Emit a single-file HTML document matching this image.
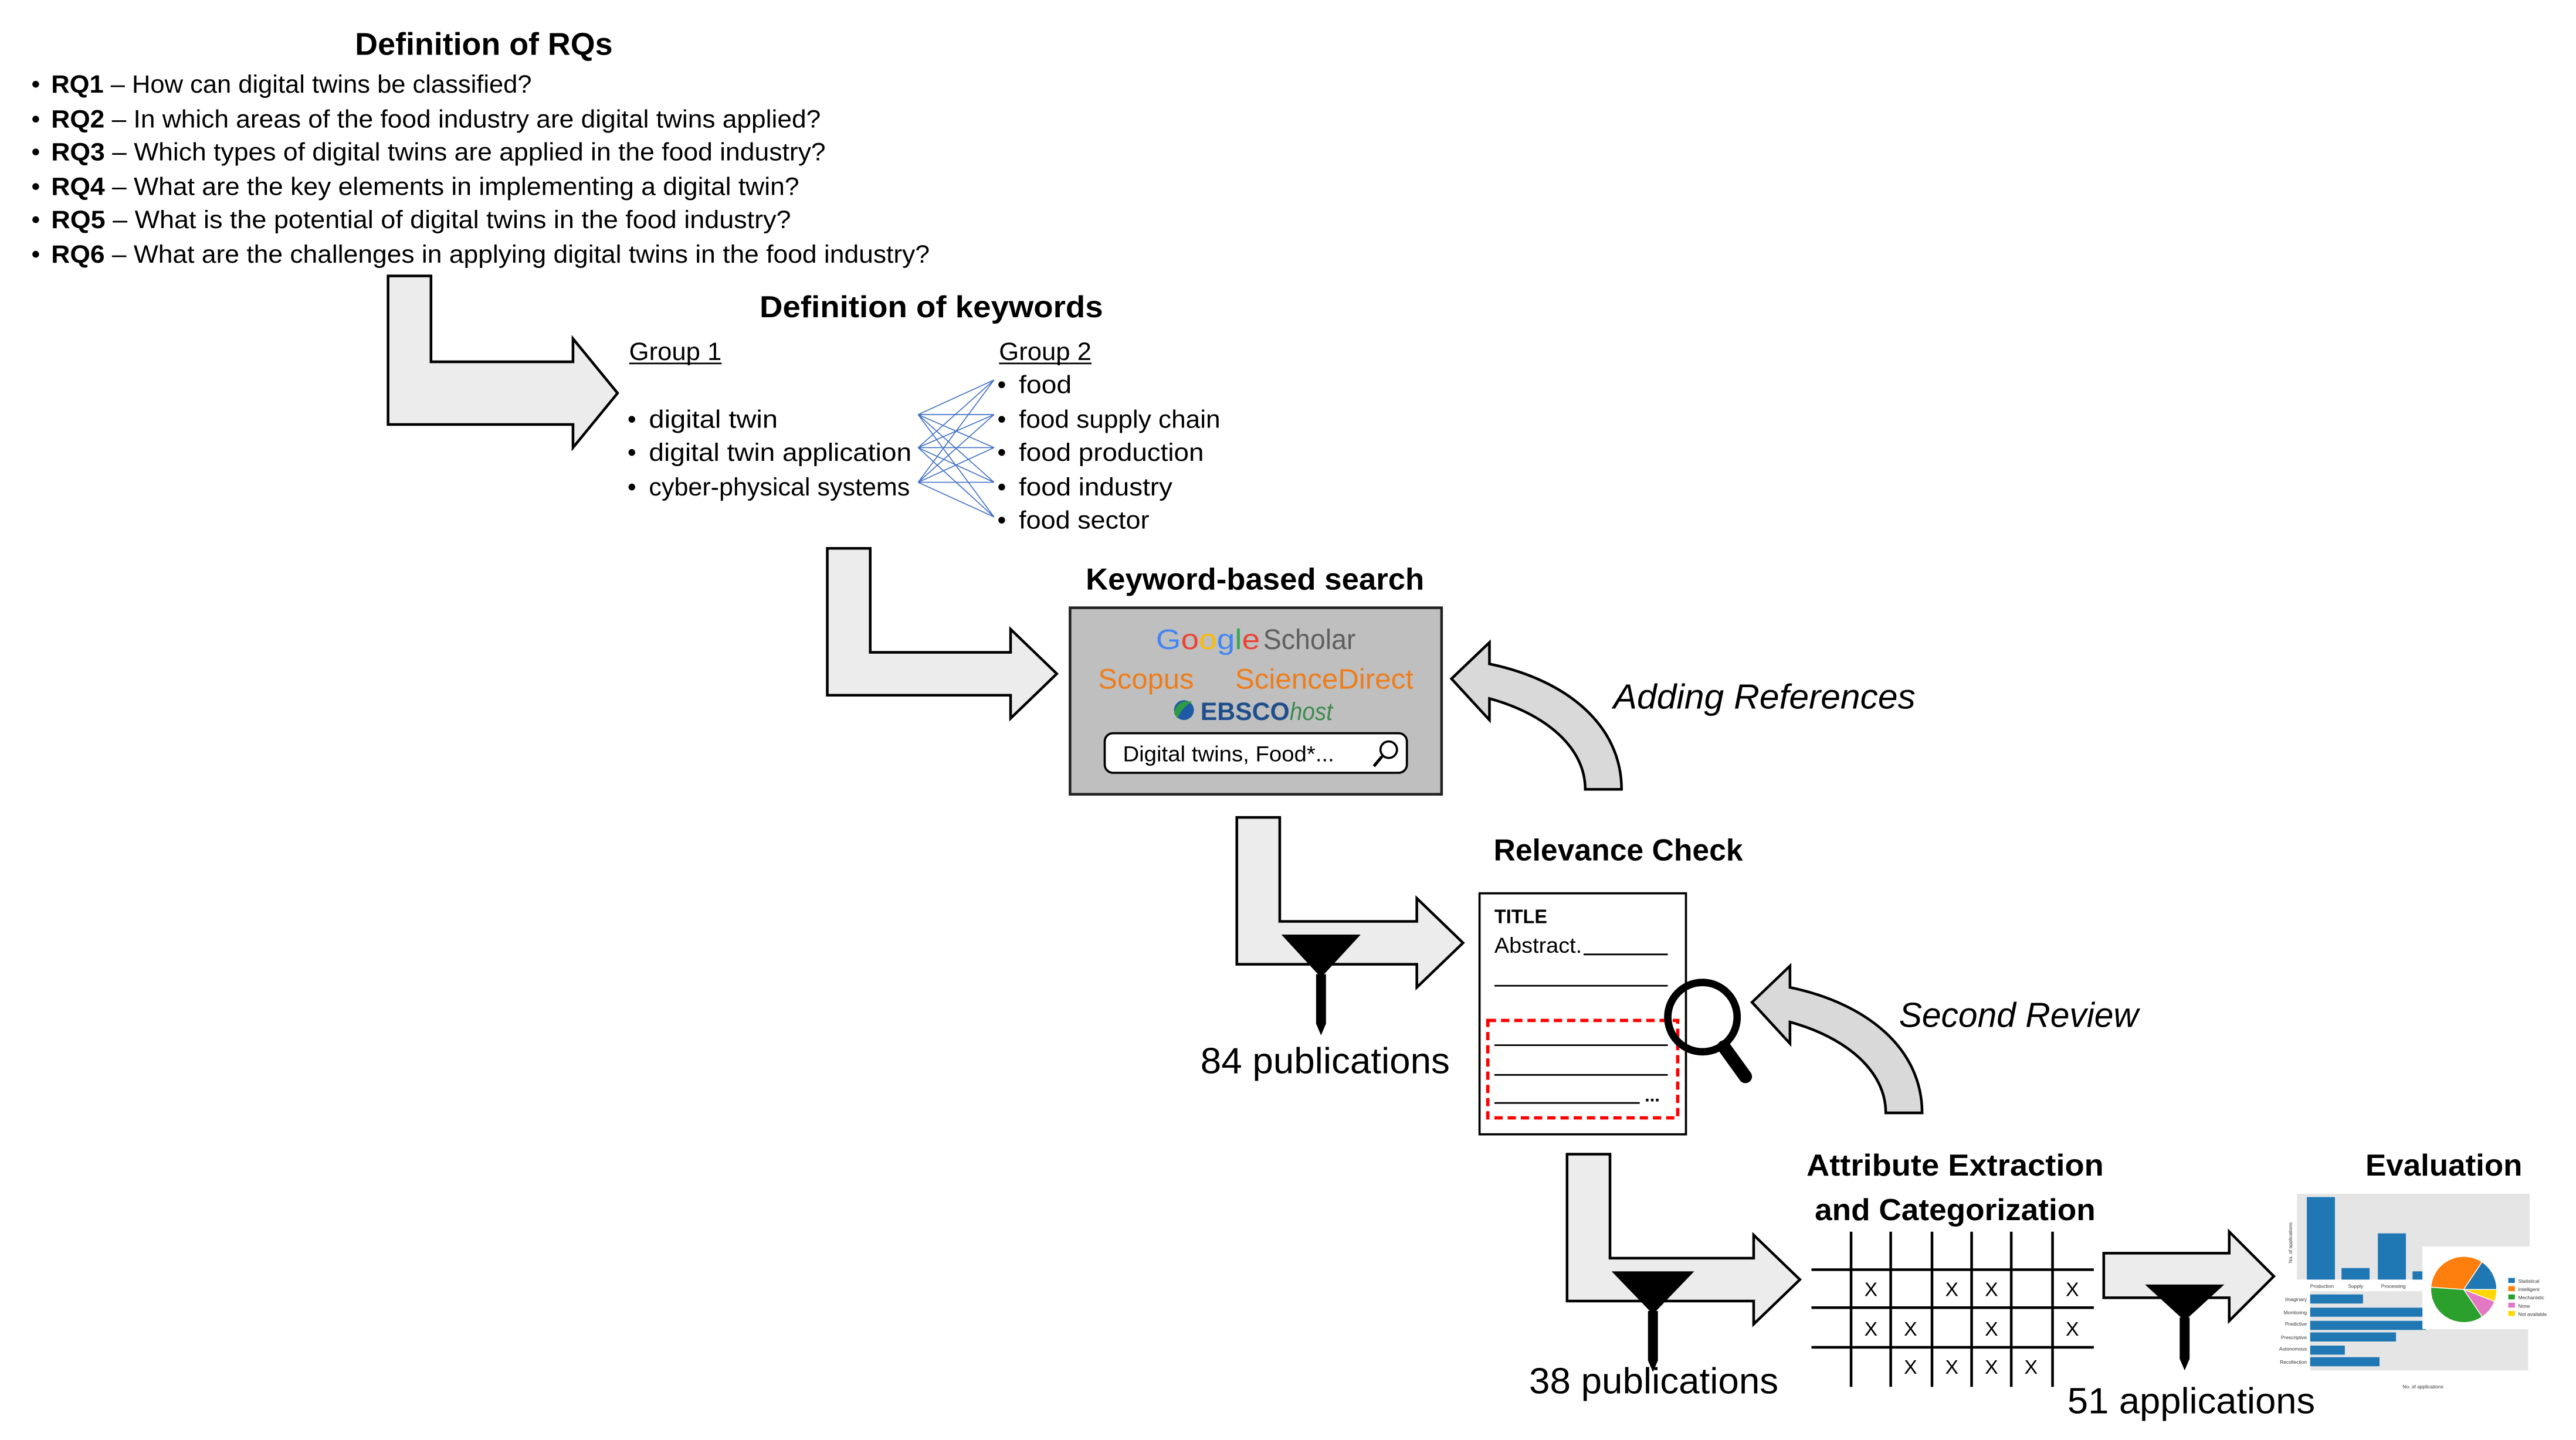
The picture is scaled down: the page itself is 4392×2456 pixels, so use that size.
<!DOCTYPE html>
<html><head><meta charset="utf-8"><style>
html,body{margin:0;padding:0;background:#fff;}
svg{display:block;}
text{font-family:"Liberation Sans",sans-serif;}
</style></head><body>
<svg width="4392" height="2456" viewBox="0 0 1560 872" xmlns="http://www.w3.org/2000/svg">
<rect width="1560" height="872" fill="#fff"/>
<!-- RQs -->
<text x="293" y="33" font-size="19" font-weight="bold" text-anchor="middle" textLength="156" lengthAdjust="spacingAndGlyphs">Definition of RQs</text>
<g font-size="15">
<text x="19" y="56">•</text><text x="31" y="56" textLength="291" lengthAdjust="spacingAndGlyphs"><tspan font-weight="bold">RQ1</tspan> – How can digital twins be classified?</text>
<text x="19" y="77">•</text><text x="31" y="77" textLength="466" lengthAdjust="spacingAndGlyphs"><tspan font-weight="bold">RQ2</tspan> – In which areas of the food industry are digital twins applied?</text>
<text x="19" y="97">•</text><text x="31" y="97" textLength="469" lengthAdjust="spacingAndGlyphs"><tspan font-weight="bold">RQ3</tspan> – Which types of digital twins are applied in the food industry?</text>
<text x="19" y="118">•</text><text x="31" y="118" textLength="453" lengthAdjust="spacingAndGlyphs"><tspan font-weight="bold">RQ4</tspan> – What are the key elements in implementing a digital twin?</text>
<text x="19" y="138">•</text><text x="31" y="138" textLength="448" lengthAdjust="spacingAndGlyphs"><tspan font-weight="bold">RQ5</tspan> – What is the potential of digital twins in the food industry?</text>
<text x="19" y="159">•</text><text x="31" y="159" textLength="532" lengthAdjust="spacingAndGlyphs"><tspan font-weight="bold">RQ6</tspan> – What are the challenges in applying digital twins in the food industry?</text>
</g>
<!-- arrows L -->
<g fill="#ececec" stroke="#000" stroke-width="1.6" stroke-linejoin="miter">
<polygon points="235,167 261,167 261,219 347,219 347,205 374,238 347,271 347,257 235,257"/>
<polygon points="501,332 527,332 527,395 612,395 612,381 640,408 612,435 612,421 501,421"/>
<polygon points="749,495 775,495 775,558 858,558 858,544 886,571 858,598 858,584 749,584"/>
<polygon points="949,699 975,699 975,762 1062,762 1062,748 1090,775 1062,802 1062,788 949,788"/>
<polygon points="1274,759 1350,759 1350,746 1377,773 1350,800 1350,786 1274,786"/>
</g>
<!-- keywords -->
<text x="564" y="192" font-size="18.5" font-weight="bold" text-anchor="middle" textLength="208" lengthAdjust="spacingAndGlyphs">Definition of keywords</text>
<g font-size="15">
<text x="381" y="218" textLength="56" lengthAdjust="spacingAndGlyphs">Group 1</text>
<line x1="381" y1="220" x2="437" y2="220" stroke="#000" stroke-width="1"/>
<text x="605" y="218" textLength="56" lengthAdjust="spacingAndGlyphs">Group 2</text>
<line x1="605" y1="220" x2="661" y2="220" stroke="#000" stroke-width="1"/>
<text x="380" y="259">•</text><text x="393" y="259" textLength="78" lengthAdjust="spacingAndGlyphs">digital twin</text>
<text x="380" y="279">•</text><text x="393" y="279" textLength="159" lengthAdjust="spacingAndGlyphs">digital twin application</text>
<text x="380" y="300">•</text><text x="393" y="300" textLength="158" lengthAdjust="spacingAndGlyphs">cyber-physical systems</text>
<text x="604" y="238">•</text><text x="617" y="238" textLength="32" lengthAdjust="spacingAndGlyphs">food</text>
<text x="604" y="259">•</text><text x="617" y="259" textLength="122" lengthAdjust="spacingAndGlyphs">food supply chain</text>
<text x="604" y="279">•</text><text x="617" y="279" textLength="112" lengthAdjust="spacingAndGlyphs">food production</text>
<text x="604" y="300">•</text><text x="617" y="300" textLength="93" lengthAdjust="spacingAndGlyphs">food industry</text>
<text x="604" y="320">•</text><text x="617" y="320" textLength="79" lengthAdjust="spacingAndGlyphs">food sector</text>
</g>
<g stroke="#4472c4" stroke-width="0.6">
<path d="M556,251L602,230M556,251L602,251M556,251L602,271M556,251L602,292M556,251L602,313
M556,271L602,230M556,271L602,251M556,271L602,271M556,271L602,292M556,271L602,313
M556,292L602,230M556,292L602,251M556,292L602,271M556,292L602,292M556,292L602,313"/>
</g>
<!-- keyword search -->
<text x="760" y="357" font-size="18.5" font-weight="bold" text-anchor="middle" textLength="205" lengthAdjust="spacingAndGlyphs">Keyword-based search</text>
<rect x="648" y="368" width="225" height="113" fill="#bfbfbf" stroke="#222" stroke-width="1.6"/>
<text x="700" y="393" font-size="17" textLength="63" lengthAdjust="spacingAndGlyphs"><tspan fill="#4285f4">G</tspan><tspan fill="#ea4335">o</tspan><tspan fill="#fbbc05">o</tspan><tspan fill="#4285f4">g</tspan><tspan fill="#34a853">l</tspan><tspan fill="#ea4335">e</tspan></text>
<text x="765" y="393" font-size="17" fill="#5f5f5f" textLength="56" lengthAdjust="spacingAndGlyphs">Scholar</text>
<text x="665" y="417" font-size="17" fill="#ee7d1a" textLength="58" lengthAdjust="spacingAndGlyphs">Scopus</text>
<text x="748" y="417" font-size="17" fill="#ee7d1a" textLength="108" lengthAdjust="spacingAndGlyphs">ScienceDirect</text>
<circle cx="717" cy="430" r="6" fill="#1f5aa6"/><path d="M711,432 Q713,423 722,425 Q716,428 713,435 Z" fill="#2e9b45"/>
<text x="727" y="436" font-size="15" font-family="Liberation Serif,serif" font-weight="bold" fill="#1f4e8c" textLength="54" lengthAdjust="spacingAndGlyphs">EBSCO</text>
<text x="781" y="436" font-size="15" font-style="italic" fill="#3d8a4e" textLength="26" lengthAdjust="spacingAndGlyphs">host</text>
<rect x="669" y="444" width="183" height="24" rx="5" fill="#fff" stroke="#000" stroke-width="1.3"/>
<text x="680" y="461" font-size="13" textLength="128" lengthAdjust="spacingAndGlyphs">Digital twins, Food*...</text>
<circle cx="841" cy="454" r="5" fill="none" stroke="#000" stroke-width="1.3"/><line x1="837" y1="458" x2="832" y2="464" stroke="#000" stroke-width="1.8"/>
<!-- curved arrows -->
<g fill="#d9d9d9" stroke="#000" stroke-width="1.6">
<path d="M982,478 C982,440 950,412 902,402 L902,389 L879,411 L902,436 L902,423 C935,432 960,452 960,478 Z"/>
<path d="M1164,674 C1164,636 1132,608 1084,598 L1084,585 L1061,607 L1084,632 L1084,619 C1117,628 1142,648 1142,674 Z"/>
</g>
<text x="977" y="429" font-size="21" font-style="italic" textLength="183" lengthAdjust="spacingAndGlyphs">Adding References</text>
<text x="1150" y="622" font-size="21" font-style="italic" textLength="145" lengthAdjust="spacingAndGlyphs">Second Review</text>
<!-- relevance check -->
<text x="980" y="521" font-size="18.5" font-weight="bold" text-anchor="middle" textLength="151" lengthAdjust="spacingAndGlyphs">Relevance Check</text>
<rect x="896" y="541" width="125" height="146" fill="#fff" stroke="#000" stroke-width="1.3"/>
<text x="905" y="559" font-size="12" font-weight="bold" textLength="32" lengthAdjust="spacingAndGlyphs">TITLE</text>
<text x="905" y="577" font-size="13" textLength="53" lengthAdjust="spacingAndGlyphs">Abstract.</text>
<g stroke="#000" stroke-width="1"><line x1="959" y1="578" x2="1010" y2="578"/><line x1="905" y1="597" x2="1010" y2="597"/>
<line x1="905" y1="633" x2="1010" y2="633"/><line x1="905" y1="651" x2="1010" y2="651"/><line x1="905" y1="668" x2="993" y2="668"/></g>
<text x="996" y="667" font-size="11" font-weight="bold">...</text>
<rect x="901" y="618" width="115" height="59" fill="none" stroke="#f00" stroke-width="2" stroke-dasharray="5,3"/>
<circle cx="1031" cy="616" r="21" fill="none" stroke="#000" stroke-width="4.5"/>
<line x1="1044" y1="634" x2="1057" y2="652" stroke="#000" stroke-width="8" stroke-linecap="round"/>
<!-- funnels -->
<g fill="#000">
<polygon points="776,566 824,566 800,592"/><polygon points="797,590 803,590 803,620 800,627 797,620"/>
<polygon points="976,770 1026,770 1001,796"/><polygon points="998,794 1004,794 1004,824 1001,831 998,824"/>
<polygon points="1299,778 1347,778 1323,800"/><polygon points="1320,798 1326,798 1326,823 1323,830 1320,823"/>
</g>
<text x="727" y="650" font-size="22" textLength="151" lengthAdjust="spacingAndGlyphs">84 publications</text>
<text x="926" y="844" font-size="22" textLength="151" lengthAdjust="spacingAndGlyphs">38 publications</text>
<text x="1252" y="856" font-size="22" textLength="150" lengthAdjust="spacingAndGlyphs">51 applications</text>
<!-- attribute matrix -->
<text x="1184" y="712" font-size="18.5" font-weight="bold" text-anchor="middle" textLength="180" lengthAdjust="spacingAndGlyphs">Attribute Extraction</text>
<text x="1184" y="739" font-size="18.5" font-weight="bold" text-anchor="middle" textLength="170" lengthAdjust="spacingAndGlyphs">and Categorization</text>
<g stroke="#000" stroke-width="1.6">
<line x1="1097" y1="769" x2="1268" y2="769"/><line x1="1097" y1="792" x2="1268" y2="792"/><line x1="1097" y1="816" x2="1268" y2="816"/>
<line x1="1121" y1="746" x2="1121" y2="840"/><line x1="1145" y1="746" x2="1145" y2="840"/><line x1="1170" y1="746" x2="1170" y2="840"/>
<line x1="1194" y1="746" x2="1194" y2="840"/><line x1="1218" y1="746" x2="1218" y2="840"/><line x1="1243" y1="746" x2="1243" y2="840"/>
</g>
<g font-size="12" text-anchor="middle">
<text x="1133" y="785">X</text><text x="1182" y="785">X</text><text x="1206" y="785">X</text><text x="1255" y="785">X</text>
<text x="1133" y="809">X</text><text x="1157" y="809">X</text><text x="1206" y="809">X</text><text x="1255" y="809">X</text>
<text x="1157" y="832">X</text><text x="1182" y="832">X</text><text x="1206" y="832">X</text><text x="1230" y="832">X</text>
</g>
<!-- evaluation -->
<text x="1480" y="712" font-size="18.5" font-weight="bold" text-anchor="middle" textLength="95" lengthAdjust="spacingAndGlyphs">Evaluation</text>
<rect x="1391" y="723" width="141" height="52" fill="#e5e5e5"/>
<g fill="#1f77b4">
<rect x="1397" y="725" width="17" height="50"/><rect x="1418" y="768" width="17" height="7"/><rect x="1440" y="747" width="17" height="28"/><rect x="1461" y="770" width="17" height="5"/>
</g>
<g font-size="3" fill="#333"><text x="1399" y="780">Production</text><text x="1422" y="780">Supply</text><text x="1442" y="780">Processing</text></g>
<text x="1388" y="765" font-size="3" fill="#333" transform="rotate(-90 1388 765)">No. of applications</text>
<rect x="1399" y="782" width="132" height="48" fill="#e5e5e5"/>
<g fill="#1f77b4">
<rect x="1399" y="784" width="32" height="5.5"/><rect x="1399" y="792" width="70" height="5.5"/><rect x="1399" y="800" width="70" height="5.5"/>
<rect x="1399" y="807" width="52" height="5.5"/><rect x="1399" y="815" width="21" height="5.5"/><rect x="1399" y="822" width="42" height="5.5"/>
</g>
<g font-size="3" fill="#333" text-anchor="end"><text x="1397" y="788">Imaginary</text><text x="1397" y="796">Monitoring</text><text x="1397" y="803">Predictive</text><text x="1397" y="811">Prescriptive</text><text x="1397" y="818">Autonomous</text><text x="1397" y="826">Recollection</text></g>
<text x="1455" y="841" font-size="3" fill="#333">No. of applications</text>
<rect x="1467" y="755" width="76" height="50" fill="#fff"/>
<g transform="translate(1492,781)" stroke="#fff" stroke-width="0.5">
<path d="M0,0 L11.1,-16.7 A20,20 0 0 1 20,0 Z" fill="#1f77b4"/>
<path d="M0,0 L20,0 A20,20 0 0 1 18.7,7.2 Z" fill="#ffd700"/>
<path d="M0,0 L18.7,7.2 A20,20 0 0 1 11.2,16.6 Z" fill="#e377c2"/>
<path d="M0,0 L11.2,16.6 A20,20 0 0 1 -19.9,-1.4 Z" fill="#2ca02c"/>
<path d="M0,0 L-19.9,-1.4 A20,20 0 0 1 11.1,-16.7 Z" fill="#ff7f0e"/>
</g>
<g font-size="3" fill="#333">
<rect x="1519" y="774" width="4" height="3" fill="#1f77b4"/><text x="1525" y="777">Statistical</text>
<rect x="1519" y="779" width="4" height="3" fill="#ff7f0e"/><text x="1525" y="782">Intelligent</text>
<rect x="1519" y="784" width="4" height="3" fill="#2ca02c"/><text x="1525" y="787">Mechanistic</text>
<rect x="1519" y="789" width="4" height="3" fill="#e377c2"/><text x="1525" y="792">None</text>
<rect x="1519" y="794" width="4" height="3" fill="#ffd700"/><text x="1525" y="797">Not available</text>
</g>
</svg>
</body></html>
